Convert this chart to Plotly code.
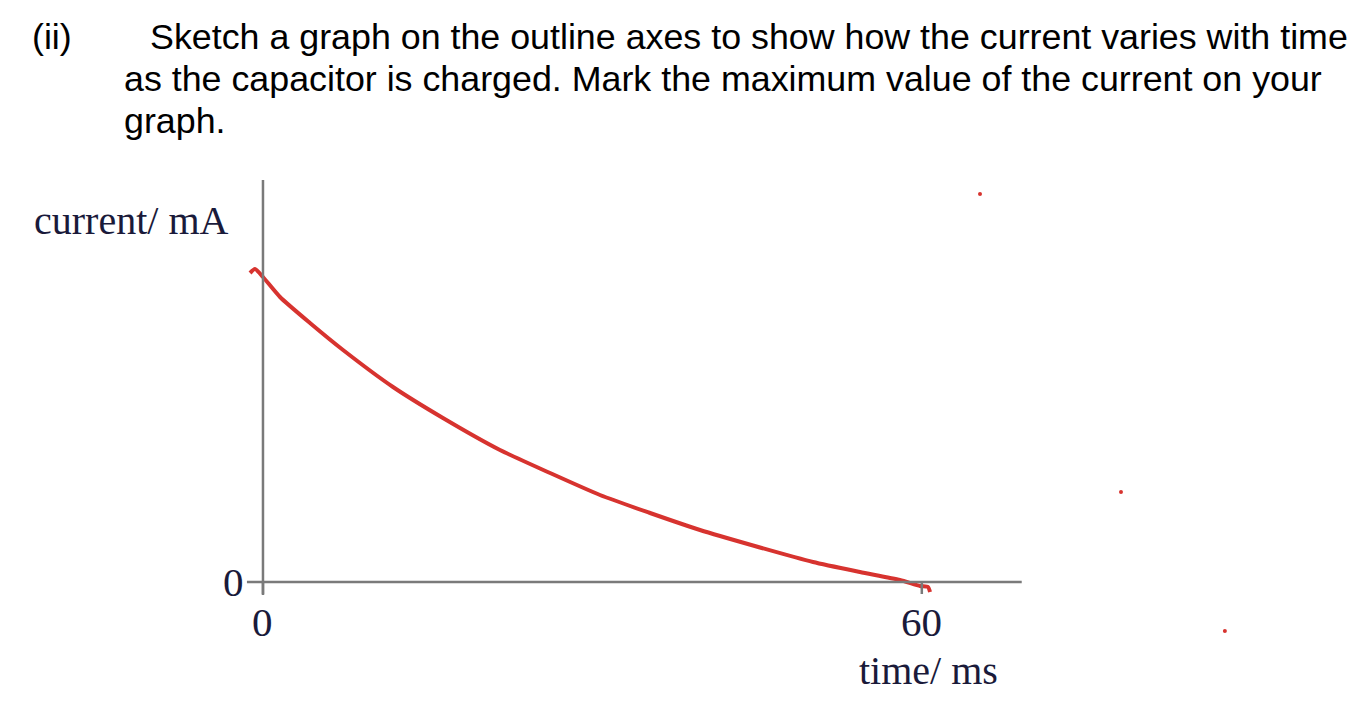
import plotly.graph_objects as go

# Data (time in ms, current in arbitrary units of mA)
time_ms = [-1.18, -0.73, 0.0, 1.55, 4.28, 7.29, 11.84, 16.39, 21.58, 26.14, 30.69,
           35.25, 39.80, 44.63, 50.09, 54.37, 58.01, 59.84, 60.56, 60.75]
current_mA = [30.9, 31.3, 30.5, 28.5, 25.9, 23.2, 19.5, 16.4, 13.2, 10.9, 8.7,
              6.9, 5.2, 3.65, 2.0, 1.0, 0.2, -0.4, -0.5, -1.0]

dot_x = [65.3, 78.14, 87.6]
dot_y = [38.8, 9.0, -4.9]

x_ticks = [0, 60]
x_tick_labels = ["0", "60"]
y_ticks = [0]
y_tick_labels = ["0"]

heading_lines = [
    "Sketch a graph on the outline axes to show how the current varies with time",
    "as the capacitor is charged. Mark the maximum value of the current on your",
    "graph.",
]

W, H = 1354, 708
X_RANGE = [-23.95, 99.36]
Y_RANGE = [-12.6, 58.2]

RED = "#d7332f"
AXIS = "#7a7a7a"
SERIF = "Liberation Serif, Times New Roman, serif"
SANS = "Liberation Sans, Arial, sans-serif"

fig = go.Figure()

# axes
fig.add_shape(type="line", x0=0, x1=0, y0=-1.3, y1=40.2, line=dict(color=AXIS, width=2.5))
fig.add_shape(type="line", x0=-1.46, x1=69.1, y0=0, y1=0, line=dict(color=AXIS, width=2.5))
for xt in x_ticks:
    fig.add_shape(type="line", x0=xt, x1=xt, y0=0, y1=-1.2, line=dict(color=AXIS, width=2.5))

fig.add_trace(go.Scatter(x=time_ms, y=current_mA, mode="lines",
                         line=dict(color=RED, width=4, shape="spline", smoothing=0.6),
                         hoverinfo="skip", showlegend=False))
fig.add_trace(go.Scatter(x=dot_x, y=dot_y, mode="markers",
                         marker=dict(color=RED, size=4), hoverinfo="skip", showlegend=False))

for xt, lab in zip(x_ticks, x_tick_labels):
    fig.add_annotation(x=xt, y=-4.0, text=lab, showarrow=False, xanchor="center", yanchor="middle",
                       font=dict(family=SERIF, size=41, color="#1a1a3a"))
for yt, lab in zip(y_ticks, y_tick_labels):
    fig.add_annotation(x=-2.7, y=yt, text=lab, showarrow=False, xanchor="center", yanchor="middle",
                       font=dict(family=SERIF, size=41, color="#1a1a3a"))

fig.add_annotation(x=-12.0, y=(582 - 220) / 10, text="current/ mA", showarrow=False,
                   xanchor="center", yanchor="middle", font=dict(family=SERIF, size=40, color="#1a1a3a"))
fig.add_annotation(x=60.6, y=(582 - 670) / 10, text="time/ ms", showarrow=False,
                   xanchor="center", yanchor="middle", font=dict(family=SERIF, size=40, color="#1a1a3a"))

# heading text
fig.add_annotation(xref="paper", yref="paper", x=30 / W, y=1 - 37 / H, text="(ii)", showarrow=False,
                   xanchor="left", yanchor="middle", font=dict(family=SANS, size=35.8, color="black"))
heading_x = [148, 122, 122]
heading_y = [37, 79, 121]
for txt, hx, hy in zip(heading_lines, heading_x, heading_y):
    fig.add_annotation(xref="paper", yref="paper", x=hx / W, y=1 - hy / H, text=txt, showarrow=False,
                       xanchor="left", yanchor="middle", font=dict(family=SANS, size=35.8, color="black"))

fig.update_xaxes(range=X_RANGE, visible=False, fixedrange=True)
fig.update_yaxes(range=Y_RANGE, visible=False, fixedrange=True)
fig.update_layout(width=W, height=H, margin=dict(l=0, r=0, t=0, b=0),
                  plot_bgcolor="white", paper_bgcolor="white")

fig.write_html("out.html", config={"displayModeBar": False},
               post_script="document.body.style.margin='0';document.body.style.overflow='hidden';")
